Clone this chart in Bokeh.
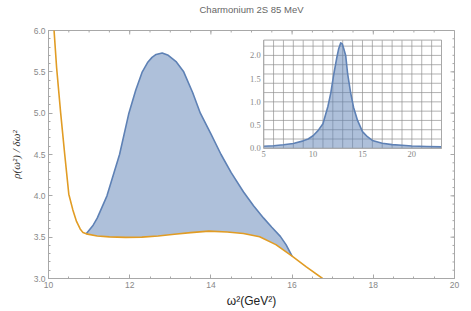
import numpy as np
from bokeh.plotting import figure
from bokeh.models import (Range1d, LinearAxis, SingleIntervalTicker, PrintfTickFormatter,
                          FixedTicker)
from bokeh.embed import file_html
from bokeh.resources import INLINE

# ---------------- data ----------------
title_text = "Charmonium 2S 85 MeV"
x_label = "ω²(GeV²)"
y_label = "ρ(ω²) / δω²"

# lower (orange) curve
orange_x = [10.13, 10.2, 10.3, 10.4, 10.5, 10.6, 10.69, 10.78, 10.85, 10.93, 11.2, 11.5,
            11.9, 12.3, 12.7, 13.1, 13.5, 13.95, 14.4, 14.8, 15.2, 15.6, 16.0, 16.35, 16.75]
orange_y = [6.05, 5.55, 5.0, 4.5, 4.02, 3.83, 3.69, 3.60, 3.555, 3.54, 3.515, 3.503,
            3.497, 3.50, 3.515, 3.535, 3.555, 3.573, 3.562, 3.545, 3.505, 3.41, 3.27,
            3.14, 3.0]

# upper (blue) curve
blue_x = [10.93, 11.1, 11.2, 11.44, 11.75, 11.98, 12.15, 12.31, 12.45, 12.55, 12.65, 12.8,
          12.95, 13.05, 13.15, 13.33, 13.55, 13.74, 14.0, 14.25, 14.5, 14.8, 15.05, 15.3,
          15.5, 15.71, 15.85, 16.0]
blue_y = [3.54, 3.645, 3.73, 4.0, 4.5, 5.0, 5.28, 5.5, 5.62, 5.675, 5.71, 5.727,
          5.70, 5.66, 5.62, 5.5, 5.25, 5.0, 4.75, 4.5, 4.28, 4.05, 3.88, 3.73,
          3.62, 3.51, 3.41, 3.27]

# inset curve
inset_x = [5, 6, 7, 8, 9, 9.5, 10, 10.5, 11, 11.5, 11.8, 12.1, 12.4, 12.6, 12.8, 12.95,
           13.1, 13.3, 13.5, 13.8, 14.1, 14.5, 15, 15.5, 16, 17, 18, 19, 20, 21.5, 23]
inset_y = [0.045, 0.055, 0.075, 0.105, 0.16, 0.2, 0.27, 0.38, 0.53, 0.9, 1.2, 1.6, 1.95,
           2.15, 2.27, 2.25, 2.15, 2.0, 1.6, 1.2, 0.88, 0.6, 0.36, 0.25, 0.17, 0.11,
           0.08, 0.065, 0.05, 0.04, 0.03]

main_xticks = [10, 12, 14, 16, 18, 20]
main_yticks = [3.0, 3.5, 4.0, 4.5, 5.0, 5.5, 6.0]
inset_xticks = [5, 10, 15, 20]
inset_ytick_vals = [0.0, 0.5, 1.0, 1.5, 2.0]
inset_ytick_text = ["0.0", "0.5", "1.0", "1.5", "2.0"]
inset_xgrid = [5, 6, 7, 8, 9, 10, 11, 12, 13, 14, 15, 16, 17, 18, 19, 20, 21, 22, 23]
inset_ygrid = [0.0, 0.2, 0.4, 0.6, 0.8, 1.0, 1.2, 1.4, 1.6, 1.8, 2.0, 2.2]

# ---------------- styles ----------------
BLUE = "#5E81B5"
ORANGE = "#E19C24"
FRAME = "#a8a8a8"
TICKTXT = "#888888"
FONT = "Liberation Sans"

MX0, MX1, MY0, MY1 = 10, 20, 3.0, 6.0
IX0, IX1, IY0, IY1 = 5, 23, 0.0, 2.33

p = figure(width=463, height=310, x_range=Range1d(MX0, MX1), y_range=Range1d(MY0, MY1),
           x_axis_type=None, y_axis_type=None, output_backend="svg", toolbar_location=None,
           title=None,
           min_border_left=48, min_border_right=9, min_border_top=28, min_border_bottom=32)
p.outline_line_color = FRAME
p.background_fill_color = "white"

# title carried by a tick-less top axis, so it can sit at the very top of the page
top_axis = LinearAxis(ticker=FixedTicker(ticks=[], minor_ticks=[]), axis_line_color=None,
                      major_tick_out=0, major_tick_in=0, minor_tick_out=0, minor_tick_in=0,
                      major_label_standoff=0, axis_label=title_text,
                      axis_label_standoff=16, axis_label_text_font=FONT,
                      axis_label_text_font_size="9.5px", axis_label_text_font_style="normal",
                      axis_label_text_color="#666666")
p.add_layout(top_axis, "above")


def style_axis(ax):
    ax.axis_line_color = FRAME
    ax.major_tick_in = 4
    ax.major_tick_out = 0
    ax.minor_tick_in = 2
    ax.minor_tick_out = 0
    ax.major_tick_line_color = FRAME
    ax.minor_tick_line_color = FRAME
    ax.major_label_text_font = FONT
    ax.major_label_text_color = TICKTXT
    ax.major_label_text_font_size = "8.5px"
    ax.major_label_standoff = 3


xax = LinearAxis(ticker=SingleIntervalTicker(interval=2, num_minor_ticks=4),
                 axis_label=x_label)
style_axis(xax)
xax.axis_label_text_font = FONT
xax.axis_label_text_font_size = "12px"
xax.axis_label_text_font_style = "normal"
xax.axis_label_text_color = "#222222"
xax.axis_label_standoff = 3
p.add_layout(xax, "below")

yax = LinearAxis(ticker=SingleIntervalTicker(interval=0.5, num_minor_ticks=5),
                 formatter=PrintfTickFormatter(format="%.1f"), axis_label=y_label)
style_axis(yax)
yax.axis_label_text_font = "Liberation Serif"
yax.axis_label_text_font_size = "11px"
yax.axis_label_text_font_style = "italic"
yax.axis_label_text_color = "#333333"
yax.axis_label_standoff = 9
p.add_layout(yax, "left")

# inward ticks on the top and right frame edges
tx_len = 4 / 40.6   # px -> data along x
ty_len = 4 / 83.3   # px -> data along y
x_minor = np.arange(MX0, MX1 + 1e-9, 0.5)
y_minor = np.arange(MY0, MY1 + 1e-9, 0.1)
p.segment(x0=main_xticks, x1=main_xticks, y0=[MY1] * len(main_xticks),
          y1=[MY1 - ty_len] * len(main_xticks), line_color=FRAME, line_width=1)
p.segment(x0=x_minor, x1=x_minor, y0=[MY1] * len(x_minor),
          y1=[MY1 - ty_len / 2] * len(x_minor), line_color=FRAME, line_width=1)
p.segment(x0=[MX1] * len(main_yticks), x1=[MX1 - tx_len] * len(main_yticks),
          y0=main_yticks, y1=main_yticks, line_color=FRAME, line_width=1)
p.segment(x0=[MX1] * len(y_minor), x1=[MX1 - tx_len / 2] * len(y_minor),
          y0=y_minor, y1=y_minor, line_color=FRAME, line_width=1)

# filled region between curves
ox = np.array(orange_x)
oy = np.array(orange_y)
sel = (ox >= blue_x[0]) & (ox <= blue_x[-1])
patch_x = list(blue_x) + list(ox[sel][::-1])
patch_y = list(blue_y) + list(oy[sel][::-1])
p.patch(patch_x, patch_y, fill_color=BLUE, fill_alpha=0.5, line_color=None)
p.line(blue_x, blue_y, line_color=BLUE, line_width=1.6, line_join="round")
p.line(orange_x, orange_y, line_color=ORANGE, line_width=1.6, line_join="round")

# ---------------- inset ----------------
ins = p.subplot(x_source=Range1d(IX0, IX1), y_source=Range1d(IY0, IY1),
                x_target=Range1d(15.30, 19.68), y_target=Range1d(4.575, 5.884))
ins.quad(left=[IX0], right=[IX1], bottom=[IY0], top=[IY1], fill_color="white",
         line_color=None)
ins.multi_line(xs=[[g, g] for g in inset_xgrid], ys=[[IY0, IY1] for g in inset_xgrid],
               line_color="#8c8c8c", line_alpha=0.75, line_width=0.9)
ins.multi_line(xs=[[IX0, IX1] for g in inset_ygrid], ys=[[g, g] for g in inset_ygrid],
               line_color="#8c8c8c", line_alpha=0.75, line_width=0.9)
ins.varea(x=inset_x, y1=[IY0] * len(inset_x), y2=inset_y, fill_color=BLUE, fill_alpha=0.5)
ins.line(inset_x, inset_y, line_color=BLUE, line_width=1.6, line_join="round")
ins.quad(left=[IX0], right=[IX1], bottom=[IY0], top=[IY1], fill_color=None,
         line_color=FRAME, line_width=1)
ins.text(x=inset_xticks, y=[IY0] * len(inset_xticks), text=[str(t) for t in inset_xticks],
         text_align="center", text_baseline="top", y_offset=3,
         text_font=FONT, text_font_size="8.5px", text_color=TICKTXT)
ins.text(x=[IX0] * len(inset_ytick_vals), y=inset_ytick_vals, text=inset_ytick_text,
         text_align="right", text_baseline="middle", x_offset=-3,
         text_font=FONT, text_font_size="8.5px", text_color=TICKTXT)

open("out.html", "w").write(file_html(p, INLINE))
